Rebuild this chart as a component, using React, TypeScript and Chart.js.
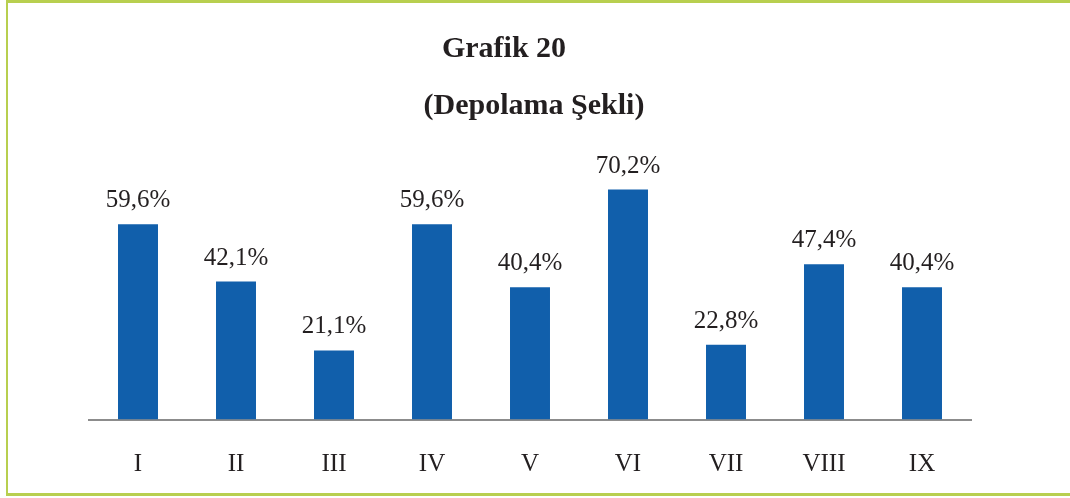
import React, { useEffect, useRef } from "react";
import { Chart, registerables } from "chart.js";

Chart.register(...registerables);

const categories: string[] = ["I", "II", "III", "IV", "V", "VI", "VII", "VIII", "IX"];
const values: number[] = [59.6, 42.1, 21.1, 59.6, 40.4, 70.2, 22.8, 47.4, 40.4];
const valueLabels: string[] = ["59,6%", "42,1%", "21,1%", "59,6%", "40,4%", "70,2%", "22,8%", "47,4%", "40,4%"];
const titleLine1 = "Grafik 20";
const titleLine2 = "(Depolama Şekli)";

const SERIF = '"Liberation Serif", "Times New Roman", serif';

const overlayPlugin = {
  id: "overlay",
  afterDatasetsDraw(chart: any) {
    const ctx = chart.ctx as CanvasRenderingContext2D;
    const meta = chart.getDatasetMeta(0);
    ctx.save();
    ctx.fillStyle = "#231f20";
    ctx.font = `25px ${SERIF}`;
    ctx.textAlign = "center";
    ctx.textBaseline = "alphabetic";
    meta.data.forEach((bar: any, i: number) => {
      ctx.fillText(valueLabels[i], bar.x, bar.y - 17);
    });
    ctx.font = `bold 30px ${SERIF}`;
    ctx.fillText(titleLine1, 504, 57);
    ctx.fillText(titleLine2, 534, 114);
    ctx.restore();
  },
};

export default function App() {
  const canvasRef = useRef<HTMLCanvasElement | null>(null);

  useEffect(() => {
    if (!canvasRef.current) return;
    const chart = new Chart(canvasRef.current, {
      type: "bar",
      data: {
        labels: categories,
        datasets: [
          {
            data: values,
            backgroundColor: "#115fab",
            borderWidth: 0,
            barPercentage: 0.408,
            categoryPercentage: 1,
          },
        ],
      },
      options: {
        animation: false,
        responsive: false,
        maintainAspectRatio: false,
        devicePixelRatio: 1,
        layout: { padding: { top: 157.5, bottom: 0, left: 89, right: 99 } },
        plugins: {
          legend: { display: false },
          title: { display: false },
          tooltip: { enabled: false },
        },
        scales: {
          x: {
            grid: { display: false, drawTicks: false },
            border: { display: true, color: "#8c8c8c", width: 2 },
            ticks: {
              color: "#231f20",
              font: { family: SERIF, size: 25 },
              padding: 30,
              maxRotation: 0,
            },
            afterFit(scale: any) {
              scale.height = 78.5;
            },
          },
          y: {
            display: false,
            min: 0,
            max: 80,
          },
        },
      },
      plugins: [overlayPlugin],
    });
    return () => chart.destroy();
  }, []);

  return (
    <div style={{ position: "fixed", left: 0, top: 0, width: 1070, height: 498, background: "#fff" }}>
      <canvas ref={canvasRef} width={1070} height={498} style={{ position: "absolute", left: 0, top: 0, width: 1070, height: 498 }} />
      <div
        style={{
          position: "absolute",
          left: 6,
          top: 0,
          width: 1070 - 6,
          height: 497 - 1,
          borderTop: "3px solid #b8cf4f",
          borderLeft: "2px solid #b8cf4f",
          borderBottom: "3px solid #b8cf4f",
          boxSizing: "border-box",
          pointerEvents: "none",
        }}
      />
    </div>
  );
}
